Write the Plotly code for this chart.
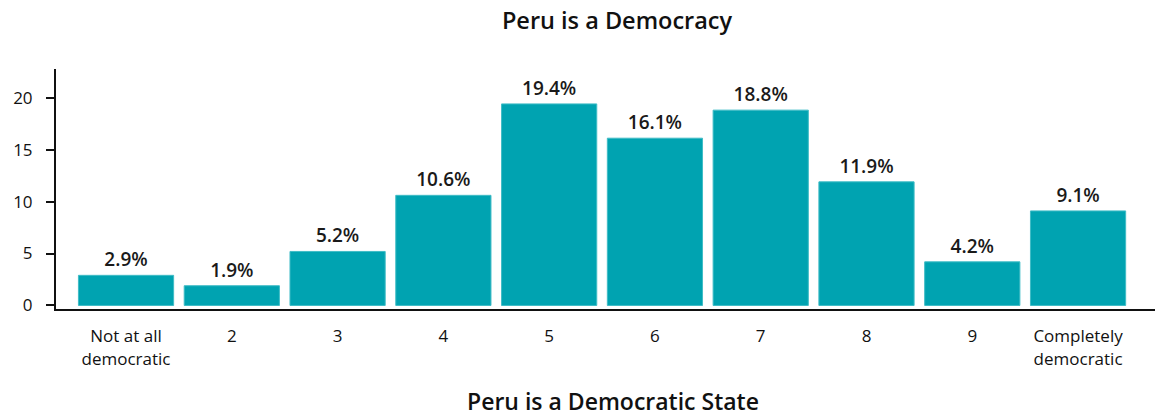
import plotly.graph_objects as go

# Peru survey: "Peru is a Democratic State" (1-10 scale, % of respondents)
categories = ["Not at all<br>democratic", "2", "3", "4", "5", "6", "7", "8", "9", "Completely<br>democratic"]
percentages = [2.9, 1.9, 5.2, 10.6, 19.4, 16.1, 18.8, 11.9, 4.2, 9.1]
y_ticks = [0, 5, 10, 15, 20]

font = "Open Sans"
bar_color = "#00A3B1"

# page body has an 8px margin, so the figure is 8px smaller than the window
W, H = 1155, 408
OFF = 8

fig = go.Figure()
fig.add_trace(go.Bar(
    x=categories,
    y=percentages,
    marker=dict(color=bar_color, line=dict(color="#3FBCC6", width=1)),
    text=[f"{v:.1f}%" for v in percentages],
    textposition="outside",
    textfont=dict(family=font, size=19, color="#1a1a1a", weight=600),
    cliponaxis=False,
    hoverinfo="x+y",
))

fig.update_layout(
    width=W, height=H,
    margin=dict(l=56 - OFF, r=0, t=69 - OFF, b=H - (309 - OFF)),
    plot_bgcolor="white", paper_bgcolor="white",
    bargap=0.1,
    showlegend=False,
    title=dict(text="Peru is a Democracy", x=(617 - OFF) / W, xanchor="center",
               y=1 - (21 - OFF) / H, yanchor="middle",
               font=dict(family=font, size=23.5, color="#111", weight=600)),
    font=dict(family=font, color="#111"),
)

fig.update_xaxes(
    range=[-0.662, 9.803],
    showline=True, linecolor="#111", linewidth=2,
    ticks="", tickfont=dict(family=font, size=17, color="#111"),
    ticklabelstandoff=11,
    showgrid=False,
)
fig.update_yaxes(
    range=[-0.34, 22.76],
    tickvals=y_ticks,
    showline=True, linecolor="#111", linewidth=2,
    ticks="outside", ticklen=8, tickwidth=2, tickcolor="#111",
    tickfont=dict(family=font, size=17, color="#111"),
    ticklabelstandoff=10,
    showgrid=False, zeroline=False,
)

fig.add_annotation(
    text="Peru is a Democratic State", xref="paper", yref="paper",
    x=(613 - 56) / 1107, y=(309 - 401) / 240, xanchor="center", yanchor="middle",
    showarrow=False, font=dict(family=font, size=23, color="#111", weight=600),
)

fig.write_html("out.html")
